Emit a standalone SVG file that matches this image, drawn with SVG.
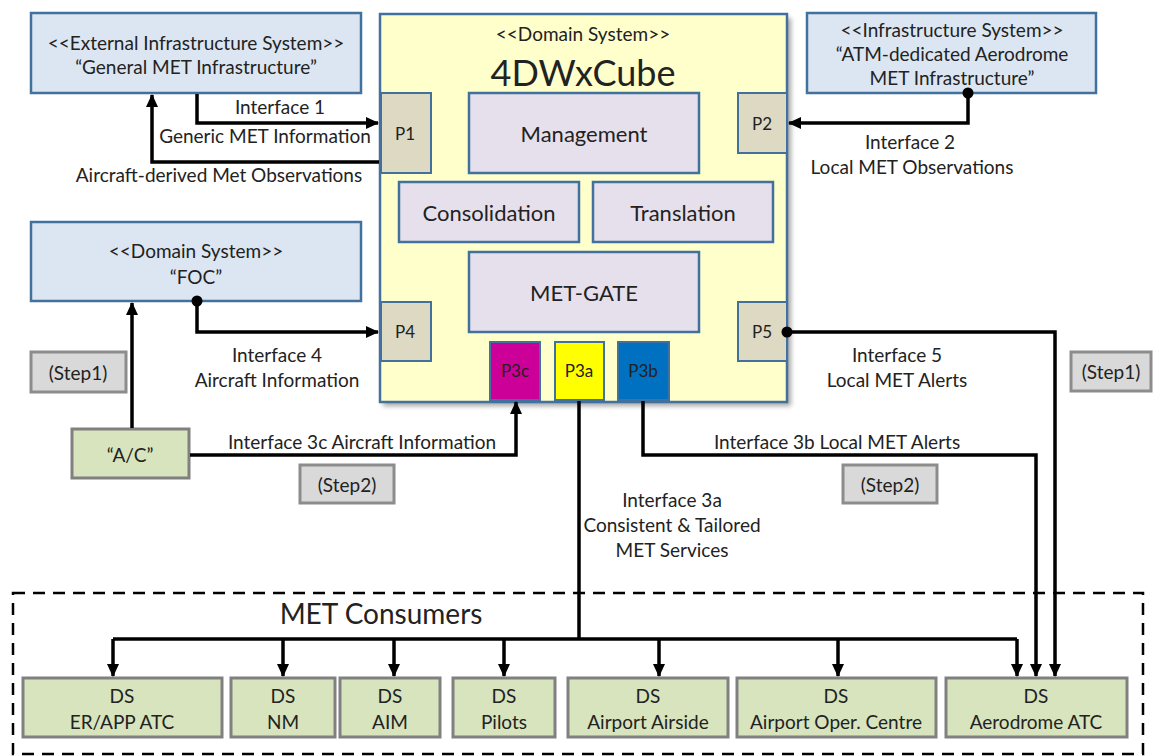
<svg xmlns="http://www.w3.org/2000/svg" width="1155" height="756" viewBox="0 0 1155 756">
<style>
text{font-family:Lato,"Open Sans","Liberation Sans",sans-serif;fill:#222;text-anchor:middle;dominant-baseline:central}
.t{font-size:19px}
.s{font-size:17px}
.m{font-size:22px}
.blue{fill:#DCE6F2;stroke:#41719C;stroke-width:2.5}
.inner{fill:#E6E0EC;stroke:#41719C;stroke-width:2.5}
.port{fill:#DDD9C3;stroke:#41719C;stroke-width:2}
.green{fill:#D7E4BD;stroke:#808080;stroke-width:3}
.step{fill:#D9D9D9;stroke:#8C8C8C;stroke-width:3}
.ln{fill:none;stroke:#000;stroke-width:3.5}
.la{fill:none;stroke:#000;stroke-width:3.5;marker-end:url(#ah)}
</style>
<defs>
<marker id="ah" markerUnits="userSpaceOnUse" markerWidth="14" markerHeight="12" refX="12" refY="6" orient="auto"><path d="M0,0 L13,6 L0,12 z" fill="#000"/></marker>
<filter id="sh" x="-5%" y="-5%" width="115%" height="115%"><feGaussianBlur stdDeviation="2.5"/></filter>
</defs>

<g id="ext-infra">
<rect class="blue" x="31" y="13" width="330" height="80"/>
<text class="t" x="196" y="42">&lt;&lt;External Infrastructure System&gt;&gt;</text>
<text class="t" x="196" y="66">“General MET Infrastructure”</text>
</g>

<g id="atm-infra">
<rect class="blue" x="807" y="13" width="289" height="80"/>
<text class="t" x="952" y="29">&lt;&lt;Infrastructure System&gt;&gt;</text>
<text class="t" x="952" y="53">“ATM-dedicated Aerodrome</text>
<text class="t" x="952" y="77">MET Infrastructure”</text>
</g>

<g id="foc">
<rect class="blue" x="31" y="222" width="330" height="79"/>
<text class="t" x="196" y="250">&lt;&lt;Domain System&gt;&gt;</text>
<text class="t" x="196" y="276">“FOC”</text>
</g>

<g id="cube">
<rect x="383" y="18" width="408" height="388" fill="#000" opacity="0.35" filter="url(#sh)"/>
<rect x="380" y="14" width="407" height="388" fill="#FFFFCC" stroke="#41719C" stroke-width="2.5"/>
<text class="t" x="583" y="33">&lt;&lt;Domain System&gt;&gt;</text>
<text x="583" y="72" style="font-size:36px">4DWxCube</text>
<g id="management"><rect class="inner" x="469" y="93" width="230" height="80"/><text class="m" x="584" y="133">Management</text></g>
<g id="consolidation"><rect class="inner" x="399" y="182" width="180" height="60"/><text class="m" x="489" y="212">Consolidation</text></g>
<g id="translation"><rect class="inner" x="593" y="182" width="180" height="60"/><text class="m" x="683" y="212">Translation</text></g>
<g id="met-gate"><rect class="inner" x="469" y="252" width="230" height="80"/><text class="m" x="584" y="292">MET-GATE</text></g>
<g id="p1"><rect class="port" x="381" y="93" width="50" height="80"/><text class="s" x="405" y="133">P1</text></g>
<g id="p2"><rect class="port" x="738" y="93" width="49" height="60"/><text class="s" x="762" y="123">P2</text></g>
<g id="p4"><rect class="port" x="381" y="302" width="50" height="59"/><text class="s" x="405" y="331">P4</text></g>
<g id="p5"><rect class="port" x="738" y="302" width="49" height="59"/><text class="s" x="762" y="331">P5</text></g>
<g id="p3c"><rect x="490" y="342" width="50" height="58" fill="#CC0099" stroke="#41719C" stroke-width="2"/><text class="s" x="515" y="370">P3c</text></g>
<g id="p3a"><rect x="555" y="342" width="49" height="58" fill="#FFFF00" stroke="#41719C" stroke-width="2"/><text class="s" x="579" y="370">P3a</text></g>
<g id="p3b"><rect x="618" y="342" width="51" height="58" fill="#0070C0" stroke="#41719C" stroke-width="2"/><text class="s" x="643" y="370">P3b</text></g>
</g>

<g id="step1-left"><rect class="step" x="31" y="352" width="95" height="40"/><text class="t" x="78" y="372">(Step1)</text></g>
<g id="step1-right"><rect class="step" x="1071" y="352" width="80" height="39"/><text class="t" x="1111" y="371">(Step1)</text></g>
<g id="step2-left"><rect class="step" x="300" y="465" width="94" height="38"/><text class="t" x="347" y="484">(Step2)</text></g>
<g id="step2-right"><rect class="step" x="843" y="465" width="94" height="38"/><text class="t" x="890" y="484">(Step2)</text></g>
<g id="ac"><rect class="green" x="72" y="429" width="117" height="49"/><text class="t" x="130" y="454">“A/C”</text></g>

<g id="met-consumers">
<rect x="13" y="593" width="1130" height="161" fill="none" stroke="#000" stroke-width="2.5" stroke-dasharray="12,8"/>
<text x="381" y="613" style="font-size:28px">MET Consumers</text>
</g>
<g id="ds-erapp"><rect class="green" x="23" y="678" width="199" height="59"/><text class="t" x="122" y="695">DS</text><text class="t" x="122" y="721">ER/APP ATC</text></g>
<g id="ds-nm"><rect class="green" x="231" y="678" width="104" height="59"/><text class="t" x="283" y="695">DS</text><text class="t" x="283" y="721">NM</text></g>
<g id="ds-aim"><rect class="green" x="340" y="678" width="100" height="59"/><text class="t" x="390" y="695">DS</text><text class="t" x="390" y="721">AIM</text></g>
<g id="ds-pilots"><rect class="green" x="453" y="678" width="102" height="59"/><text class="t" x="504" y="695">DS</text><text class="t" x="504" y="721">Pilots</text></g>
<g id="ds-airside"><rect class="green" x="568" y="678" width="160" height="59"/><text class="t" x="648" y="695">DS</text><text class="t" x="648" y="721">Airport Airside</text></g>
<g id="ds-aoc"><rect class="green" x="737" y="678" width="199" height="59"/><text class="t" x="836" y="695">DS</text><text class="t" x="836" y="721">Airport Oper. Centre</text></g>
<g id="ds-aerodrome"><rect class="green" x="946" y="678" width="181" height="59"/><text class="t" x="1036" y="695">DS</text><text class="t" x="1036" y="721">Aerodrome ATC</text></g>

<g id="connectors">
<path class="la" d="M197,94 V123 H378"/>
<path class="la" d="M379,162 H152 V95"/>
<path class="la" d="M968,93 V123 H789"/>
<circle cx="968" cy="93" r="5.5"/>
<path class="la" d="M197,301 V332 H378"/>
<circle cx="197" cy="301" r="5.5"/>
<path class="la" d="M132,428 V303"/>
<path class="la" d="M190,455 H516 V402"/>
<path class="la" d="M787,332 H1055 V676"/>
<circle cx="787" cy="332" r="5.5"/>
<path class="la" d="M643,401 V455 H1036 V676"/>
<path class="ln" d="M579,401 V639"/>
<path class="ln" d="M113,639 H1017"/>
<path class="la" d="M113,639 V676"/>
<path class="la" d="M283,639 V676"/>
<path class="la" d="M394,639 V676"/>
<path class="la" d="M504,639 V676"/>
<path class="la" d="M659,639 V676"/>
<path class="la" d="M838,639 V676"/>
<path class="la" d="M1017,639 V676"/>
<text class="t" x="280" y="106">Interface 1</text>
<text class="t" x="265" y="135">Generic MET Information</text>
<text class="t" x="219" y="174">Aircraft-derived Met Observations</text>
<text class="t" x="910" y="141">Interface 2</text>
<text class="t" x="912" y="166">Local MET Observations</text>
<text class="t" x="277" y="354">Interface 4</text>
<text class="t" x="277" y="379">Aircraft Information</text>
<text class="t" x="362" y="441">Interface 3c Aircraft Information</text>
<text class="t" x="897" y="354">Interface 5</text>
<text class="t" x="897" y="379">Local MET Alerts</text>
<text class="t" x="837" y="441">Interface 3b Local MET Alerts</text>
<text class="t" x="672" y="499">Interface 3a</text>
<text class="t" x="672" y="524">Consistent &amp; Tailored</text>
<text class="t" x="672" y="549">MET Services</text>
</g>
</svg>
